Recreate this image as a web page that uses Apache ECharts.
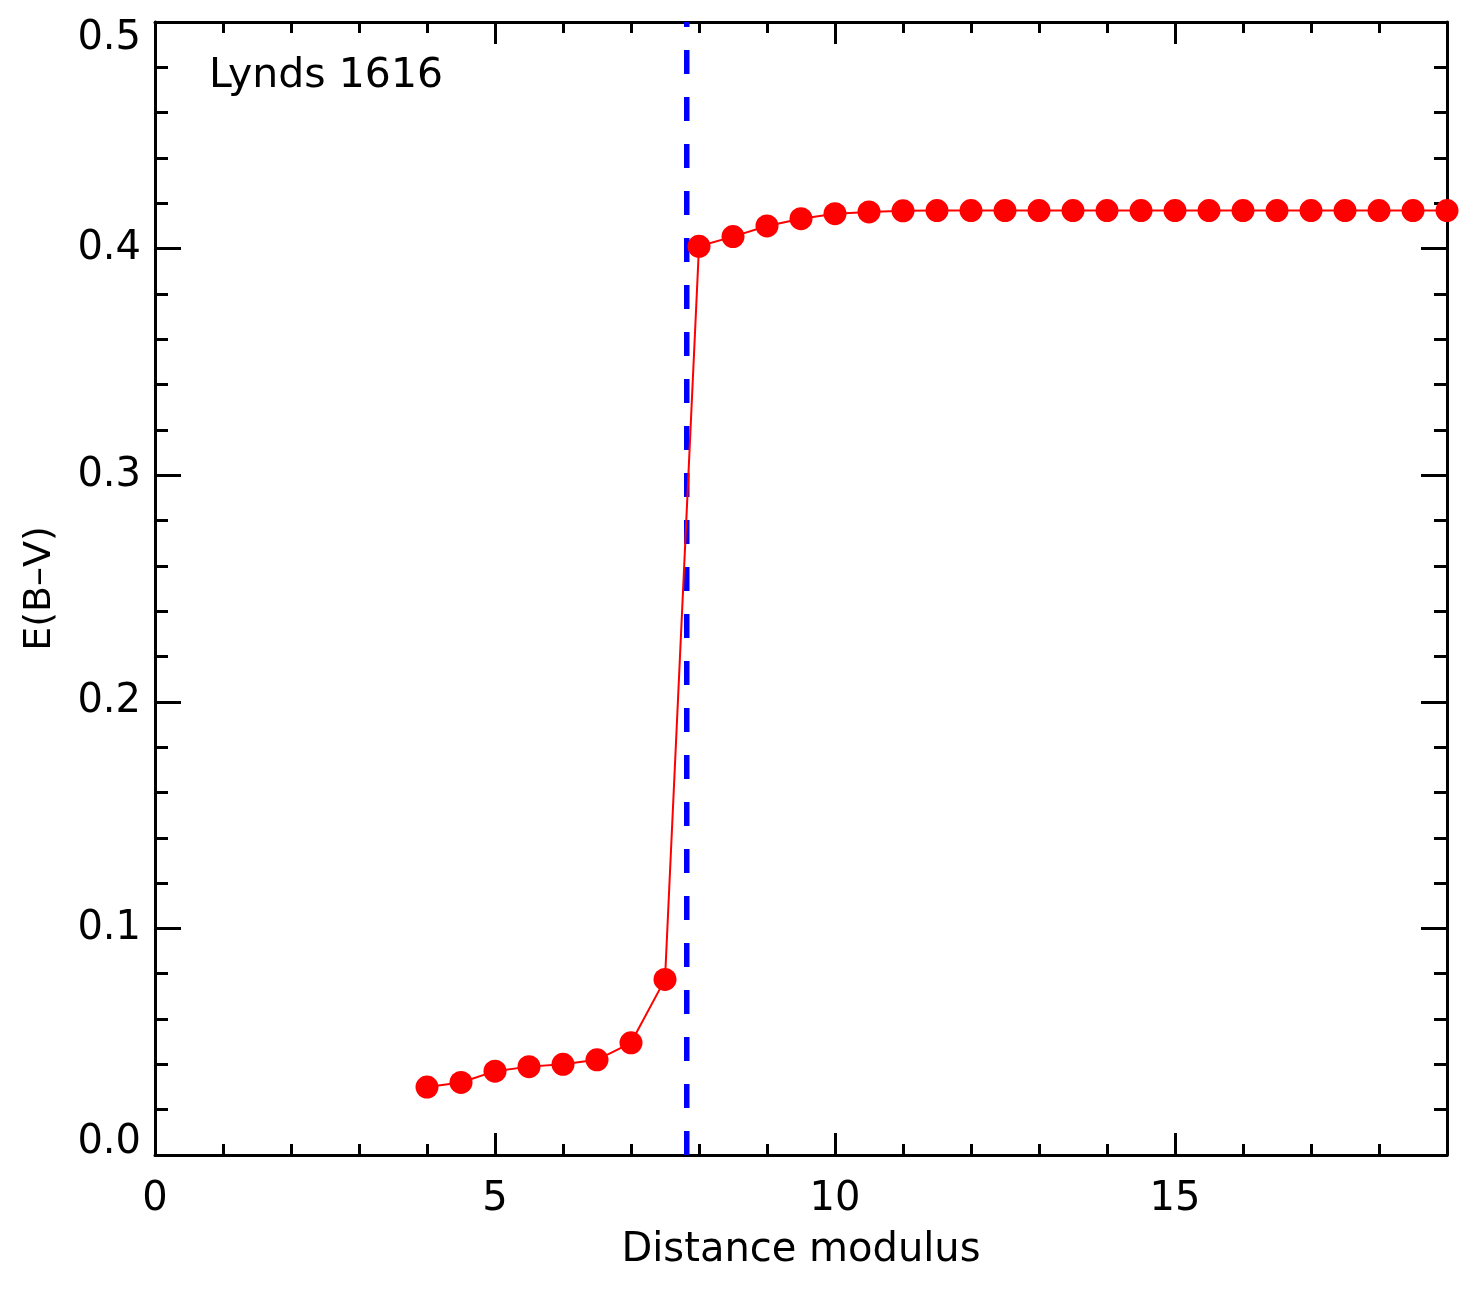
<!DOCTYPE html>
<html>
<head>
<meta charset="utf-8">
<script src="https://cdn.jsdelivr.net/npm/echarts@6/dist/echarts.min.js"></script>
<style>
  html, body { margin: 0; padding: 0; background: #fff; }
  #container { width: 1475px; height: 1296px; }
</style>
</head>
<body>
<div id="container"></div>
<script>
var dom = document.getElementById("container");
var myChart = echarts.init(dom);

// distance modulus and reddening
var distMod = [4, 4.5, 5, 5.5, 6, 6.5, 7, 7.5, 8, 8.5, 9, 9.5, 10, 10.5, 11, 11.5,
  12, 12.5, 13, 13.5, 14, 14.5, 15, 15.5, 16, 16.5, 17, 17.5, 18, 18.5, 19];
var ebv = [0.030, 0.032, 0.037, 0.039, 0.040, 0.042, 0.0495, 0.0775, 0.401, 0.4053,
  0.410, 0.4132, 0.4154, 0.4162, 0.4167, 0.4168, 0.4168, 0.4168, 0.4168, 0.4168,
  0.4168, 0.4168, 0.4168, 0.4168, 0.4168, 0.4168, 0.4168, 0.4168, 0.4168, 0.4168, 0.4168];
var cloudDist = 7.82;
var dashY = [0, 0.5];
var label = "Lynds 1616";

var font = "DejaVu Sans";

var points = distMod.map(function (d, i) {
  return [d, ebv[i]];
});
var dashLine = dashY.map(function (v) {
  return [cloudDist, v];
});

function xAxisCfg(pos, showLabel) {
  return {
    type: "value",
    position: pos,
    min: 0,
    max: 19,
    interval: 5,
    name: showLabel ? "Distance modulus" : "",
    nameLocation: "middle",
    nameGap: 76,
    nameTextStyle: { fontFamily: font, fontSize: 40, color: "#000" },
    axisLine: { show: true, onZero: false, lineStyle: { color: "#000", width: 3 } },
    axisTick: { show: true, inside: true, length: 22, lineStyle: { color: "#000", width: 3 } },
    minorTick: { show: true, splitNumber: 5, length: 11, lineStyle: { color: "#000", width: 3 } },
    axisLabel: {
      show: showLabel,
      showMaxLabel: false,
      margin: 25,
      fontFamily: font,
      fontSize: 40,
      color: "#000",
    },
    splitLine: { show: false },
    minorSplitLine: { show: false },
  };
}

function yAxisCfg(pos, showLabel) {
  return {
    type: "value",
    position: pos,
    min: 0,
    max: 0.5,
    interval: 0.1,
    name: showLabel ? "E(B–V)" : "",
    nameLocation: "middle",
    nameGap: 96,
    nameRotate: 90,
    nameTextStyle: { fontFamily: font, fontSize: 38, color: "#000" },
    axisLine: { show: true, onZero: false, lineStyle: { color: "#000", width: 3 } },
    axisTick: { show: true, inside: true, length: 26, lineStyle: { color: "#000", width: 3 } },
    minorTick: { show: true, splitNumber: 5, length: 13, lineStyle: { color: "#000", width: 3 } },
    axisLabel: {
      show: showLabel,
      margin: 14,
      fontFamily: font,
      fontSize: 40,
      color: "#000",
      formatter: function (v) {
        var s = v.toFixed(1);
        if (v === 0) return "{lo|" + s + "}";
        if (Math.abs(v - 0.5) < 1e-9) return "{hi|" + s + "}";
        return s;
      },
      rich: {
        lo: { fontFamily: font, fontSize: 40, color: "#000", padding: [0, 0, 24, 0] },
        hi: { fontFamily: font, fontSize: 40, color: "#000", padding: [34, 0, 0, 0] },
      },
    },
    splitLine: { show: false },
    minorSplitLine: { show: false },
  };
}

var option = {
  backgroundColor: "#fff",
  animation: false,
  title: {
    text: label,
    left: 209,
    top: 56,
    padding: 0,
    textStyle: { fontFamily: font, fontSize: 41, fontWeight: "normal", color: "#000" },
  },
  grid: {
    left: 155,
    right: 28,
    top: 22,
    bottom: 141,
    containLabel: false,
  },
  xAxis: [xAxisCfg("bottom", true), xAxisCfg("top", false)],
  yAxis: [yAxisCfg("left", true), yAxisCfg("right", false)],
  series: [
    {
      name: "cloud",
      type: "line",
      data: dashLine,
      showSymbol: false,
      symbol: "none",
      lineStyle: { color: "#0000ff", width: 5.5, type: [24, 23] },
      z: 3,
    },
    {
      name: "E(B-V)",
      type: "line",
      data: points,
      symbol: "circle",
      symbolSize: 23,
      showSymbol: true,
      itemStyle: { color: "#ff0000" },
      lineStyle: { color: "#ff0000", width: 2 },
      z: 4,
    },
  ],
};

myChart.setOption(option);
</script>
</body>
</html>
